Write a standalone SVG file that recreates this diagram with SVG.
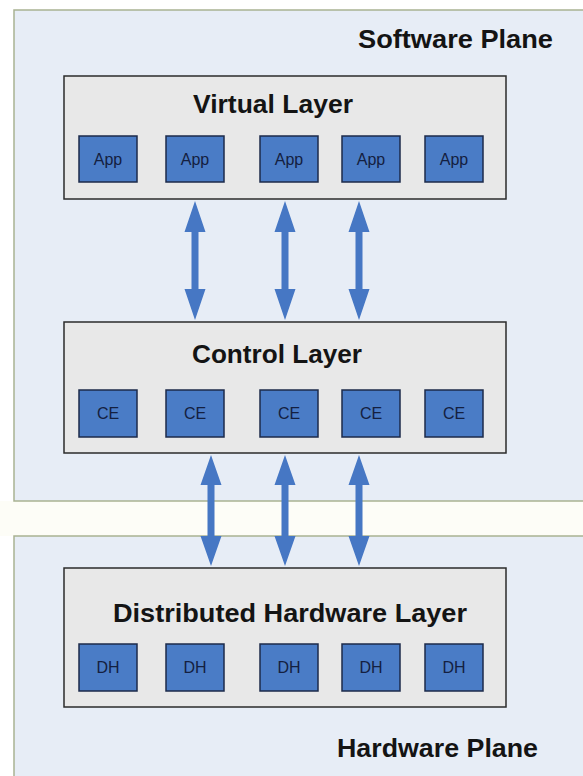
<svg xmlns="http://www.w3.org/2000/svg" xmlns:xlink="http://www.w3.org/1999/xlink" width="583" height="776" viewBox="0 0 583 776">
  <style>
    .plane { fill: #e7edf6; stroke: #a9b292; stroke-width: 1.5; }
    .layer { fill: #e8e8e8; stroke: #2b2b2b; stroke-width: 1.5; }
    .unit { fill: #4a7cc6; stroke: #1c2a4a; stroke-width: 1.5; }
    .title { font-family: "Liberation Sans", Arial, sans-serif; font-weight: bold; font-size: 26px; fill: #141414; }
    .label { font-family: "Liberation Sans", Arial, sans-serif; font-size: 16px; fill: #142040; text-anchor: middle; }
    .arrow { fill: #4677c4; }
  </style>
  <defs>
    <path id="arrowUp" class="arrow" d="M0,0 L10.5,31 L3.5,31 L3.5,88 L10.5,88 L0,119 L-10.5,88 L-3.5,88 L-3.5,31 L-10.5,31 Z"/>
    <path id="arrowLow" class="arrow" d="M0,0 L10.5,30 L3.5,30 L3.5,81 L10.5,81 L0,111 L-10.5,81 L-3.5,81 L-3.5,30 L-10.5,30 Z"/>
  </defs>

  <rect x="0" y="0" width="583" height="776" fill="#ffffff"/>
  <rect x="0" y="501" width="583" height="35" fill="#fdfdf7"/>

  <g id="software-plane">
    <rect class="plane" x="14" y="10" width="600" height="491"/>
    <text class="title" x="358" y="48" textLength="195" lengthAdjust="spacingAndGlyphs">Software Plane</text>
  </g>

  <g id="hardware-plane">
    <rect class="plane" x="14" y="536" width="600" height="260"/>
    <text class="title" x="337" y="757" textLength="201" lengthAdjust="spacingAndGlyphs">Hardware Plane</text>
  </g>

  <g id="virtual-layer">
    <rect class="layer" x="64" y="76" width="442" height="123"/>
    <text class="title" x="193" y="113" textLength="160" lengthAdjust="spacingAndGlyphs">Virtual Layer</text>
  </g>
  <g id="app1"><rect class="unit" x="79" y="136" width="58" height="46"/><text class="label" x="108" y="165">App</text></g>
  <g id="app2"><rect class="unit" x="166" y="136" width="58" height="46"/><text class="label" x="195" y="165">App</text></g>
  <g id="app3"><rect class="unit" x="260" y="136" width="58" height="46"/><text class="label" x="289" y="165">App</text></g>
  <g id="app4"><rect class="unit" x="342" y="136" width="58" height="46"/><text class="label" x="371" y="165">App</text></g>
  <g id="app5"><rect class="unit" x="425" y="136" width="58" height="46"/><text class="label" x="454" y="165">App</text></g>

  <g id="control-layer">
    <rect class="layer" x="64" y="322" width="442" height="131"/>
    <text class="title" x="192" y="363" textLength="170" lengthAdjust="spacingAndGlyphs">Control Layer</text>
  </g>
  <g id="ce1"><rect class="unit" x="79" y="390" width="58" height="47"/><text class="label" x="108" y="419">CE</text></g>
  <g id="ce2"><rect class="unit" x="166" y="390" width="58" height="47"/><text class="label" x="195" y="419">CE</text></g>
  <g id="ce3"><rect class="unit" x="260" y="390" width="58" height="47"/><text class="label" x="289" y="419">CE</text></g>
  <g id="ce4"><rect class="unit" x="342" y="390" width="58" height="47"/><text class="label" x="371" y="419">CE</text></g>
  <g id="ce5"><rect class="unit" x="425" y="390" width="58" height="47"/><text class="label" x="454" y="419">CE</text></g>

  <g id="hardware-layer">
    <rect class="layer" x="64" y="568" width="442" height="139"/>
    <text class="title" x="113" y="622" textLength="354" lengthAdjust="spacingAndGlyphs">Distributed Hardware Layer</text>
  </g>
  <g id="dh1"><rect class="unit" x="79" y="644" width="58" height="47"/><text class="label" x="108" y="673">DH</text></g>
  <g id="dh2"><rect class="unit" x="166" y="644" width="58" height="47"/><text class="label" x="195" y="673">DH</text></g>
  <g id="dh3"><rect class="unit" x="260" y="644" width="58" height="47"/><text class="label" x="289" y="673">DH</text></g>
  <g id="dh4"><rect class="unit" x="342" y="644" width="58" height="47"/><text class="label" x="371" y="673">DH</text></g>
  <g id="dh5"><rect class="unit" x="425" y="644" width="58" height="47"/><text class="label" x="454" y="673">DH</text></g>

  <g id="connectors">
    <use xlink:href="#arrowUp" href="#arrowUp" transform="translate(195,201)"/>
    <use xlink:href="#arrowUp" href="#arrowUp" transform="translate(285,201)"/>
    <use xlink:href="#arrowUp" href="#arrowUp" transform="translate(359,201)"/>
    <use xlink:href="#arrowLow" href="#arrowLow" transform="translate(211,455)"/>
    <use xlink:href="#arrowLow" href="#arrowLow" transform="translate(285,455)"/>
    <use xlink:href="#arrowLow" href="#arrowLow" transform="translate(359,455)"/>
  </g>
</svg>
